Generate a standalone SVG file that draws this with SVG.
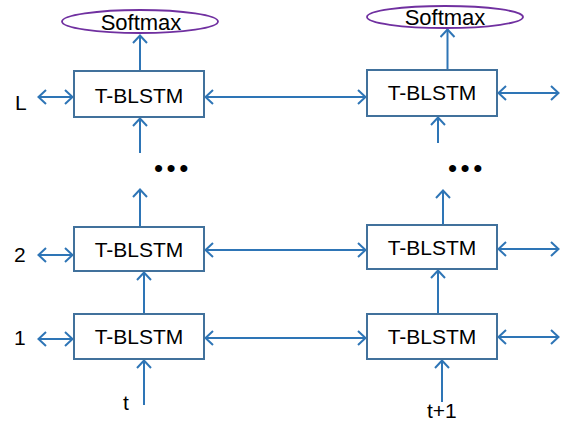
<svg xmlns="http://www.w3.org/2000/svg" width="569" height="424" viewBox="0 0 569 424">
<style>
.box{fill:#fff;stroke:#41719C;stroke-width:2}
.sm{fill:#fff;stroke:#7030A0;stroke-width:1.8}
.t{font-family:"Liberation Sans",Arial,sans-serif;font-size:21px;fill:#000}
.s{font-size:22px}
.c{text-anchor:middle}
.ln{stroke:#2E75B6;stroke-width:2;fill:none}
.a{marker-end:url(#ah)}
.b{marker-start:url(#ah);marker-end:url(#ah)}
</style>
<defs>
<marker id="ah" markerUnits="userSpaceOnUse" markerWidth="16" markerHeight="18" refX="9" refY="8" orient="auto-start-reverse">
<path d="M1,1 L8.5,8 L1,15" fill="none" stroke="#2E75B6" stroke-width="2"/>
</marker>
</defs>
<g id="connectors">
<line class="ln a" x1="140" y1="71" x2="140" y2="35"/>
<line class="ln a" x1="140" y1="153" x2="140" y2="118"/>
<line class="ln a" x1="140" y1="227" x2="140" y2="189"/>
<line class="ln a" x1="144" y1="314" x2="144" y2="272"/>
<line class="ln a" x1="144" y1="405" x2="144" y2="360"/>
<line class="ln a" x1="447.5" y1="70" x2="447.5" y2="29"/>
<line class="ln a" x1="438" y1="143" x2="438" y2="117"/>
<line class="ln a" x1="443" y1="225" x2="443" y2="190"/>
<line class="ln a" x1="438" y1="314" x2="438" y2="270"/>
<line class="ln a" x1="442" y1="402" x2="442" y2="360"/>
<line class="ln b" x1="38" y1="97" x2="73" y2="97"/>
<line class="ln b" x1="205" y1="97" x2="366" y2="97"/>
<line class="ln b" x1="498" y1="93" x2="559" y2="93"/>
<line class="ln b" x1="38" y1="255" x2="73" y2="255"/>
<line class="ln b" x1="205" y1="250" x2="366" y2="250"/>
<line class="ln b" x1="498" y1="249" x2="559" y2="249"/>
<line class="ln b" x1="38" y1="339" x2="73" y2="339"/>
<line class="ln b" x1="205" y1="338" x2="366" y2="338"/>
<line class="ln b" x1="498" y1="337" x2="559" y2="337"/>
</g>
<g id="softmax-t"><ellipse class="sm" cx="140" cy="21.5" rx="78" ry="11.5"/><text class="t s c" x="141" y="30">Softmax</text></g>
<g id="softmax-t1"><ellipse class="sm" cx="445" cy="17" rx="78" ry="11"/><text class="t s c" x="445" y="25">Softmax</text></g>
<g id="blstm-L-t"><rect class="box" x="74" y="71" width="130" height="46"/><text class="t c" x="139" y="103">T-BLSTM</text></g>
<g id="blstm-L-t1"><rect class="box" x="367" y="70" width="130" height="46"/><text class="t c" x="432" y="100">T-BLSTM</text></g>
<g id="blstm-2-t"><rect class="box" x="74" y="227" width="130" height="44"/><text class="t c" x="139" y="256.5">T-BLSTM</text></g>
<g id="blstm-2-t1"><rect class="box" x="367" y="225" width="130" height="44"/><text class="t c" x="432" y="255">T-BLSTM</text></g>
<g id="blstm-1-t"><rect class="box" x="74" y="314" width="130" height="45"/><text class="t c" x="139" y="344">T-BLSTM</text></g>
<g id="blstm-1-t1"><rect class="box" x="367" y="314" width="130" height="45"/><text class="t c" x="432" y="344">T-BLSTM</text></g>
<g id="labels">
<text class="t" x="15" y="110">L</text>
<text class="t" x="14" y="262">2</text>
<text class="t" x="14" y="345">1</text>
<text class="t" x="123" y="410">t</text>
<text class="t" x="427" y="418">t+1</text>
<text class="t" x="154" y="177" style="font-size:26px;letter-spacing:3.5px">•••</text>
<text class="t" x="448" y="177" style="font-size:26px;letter-spacing:3.5px">•••</text>
</g>
</svg>
